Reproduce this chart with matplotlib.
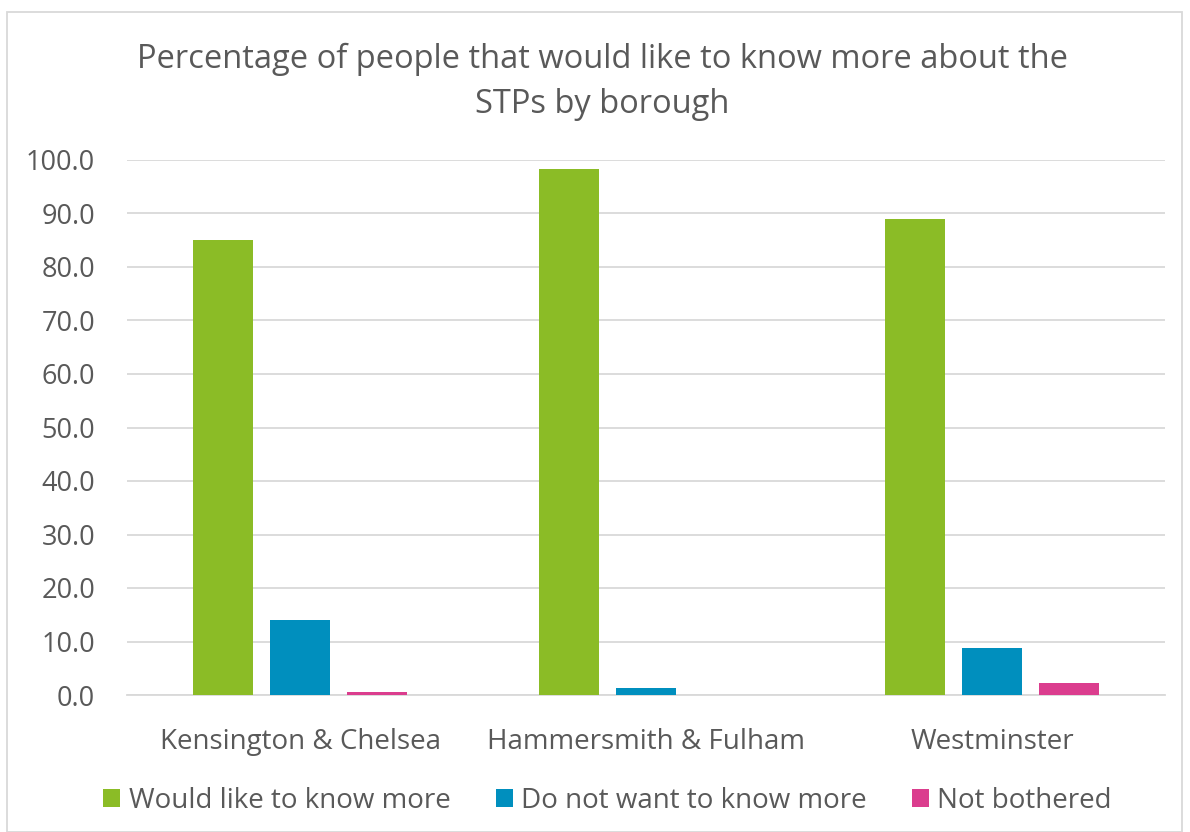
import matplotlib
matplotlib.use("Agg")
import matplotlib.pyplot as plt
import numpy as np
from matplotlib.patches import Patch, Rectangle

boroughs = ["Kensington & Chelsea", "Hammersmith & Fulham", "Westminster"]
series_names = ["Would like to know more", "Do not want to know more", "Not bothered"]
would_like = [85.1, 98.4, 88.9]
do_not_want = [14.1, 1.3, 8.8]
not_bothered = [0.6, 0.0, 2.2]
yticks = [0, 10, 20, 30, 40, 50, 60, 70, 80, 90, 100]

colors = ["#8BBC26", "#008FBE", "#DB3D8E"]
text_color = "#595959"
grid_color = "#D9D9D9"

plt.rcParams["font.family"] = ["Open Sans", "DejaVu Sans"]

fig = plt.figure(figsize=(11.9, 8.32), dpi=100)
ax = fig.add_axes([127/1190, 1-695/832, (1165-127)/1190, (695-160)/832])

x = np.arange(len(boroughs))
offs = [-0.2225, 0.0, 0.2225]
width = 0.176
for vals, off, c in zip([would_like, do_not_want, not_bothered], offs, colors):
    ax.bar(x + off, vals, width=width, color=c, zorder=3)

ax.set_xlim(-0.5, 2.5)
ax.set_ylim(0, 100)
ax.set_yticks(yticks)
ax.set_yticklabels([f"{v:.1f}" for v in yticks], fontsize=19.5, color=text_color)
ax.set_xticks(x)
ax.set_xticklabels(boroughs, fontsize=20, color=text_color)
ax.tick_params(axis="both", length=0)
ax.tick_params(axis="y", pad=23)
ax.tick_params(axis="x", pad=24)
ax.yaxis.grid(True, color=grid_color, linewidth=1.3, zorder=0)
for s in ["top", "right", "left"]:
    ax.spines[s].set_visible(False)
ax.spines["bottom"].set_color(grid_color)
ax.spines["bottom"].set_linewidth(1.3)
ax.set_axisbelow(True)

fig.text(0.506, 1-82/832, "Percentage of people that would like to know more about the\nSTPs by borough",
         ha="center", va="center", fontsize=23.5, color=text_color, linespacing=1.45)

handles = [Patch(facecolor=c, edgecolor="none") for c in colors]
fig.legend(handles, series_names, loc="center", bbox_to_anchor=(0.5105, 1-801/832), ncol=3,
           frameon=False, fontsize=20, labelcolor=text_color, handlelength=0.62,
           handleheight=0.62, handletextpad=0.3, columnspacing=1.62)

fig.add_artist(Rectangle((7/1190, 0), (1182-7)/1190, 1-12/832, transform=fig.transFigure,
                         fill=False, edgecolor=grid_color, linewidth=1.3))

fig.savefig("out.png", dpi=100)
